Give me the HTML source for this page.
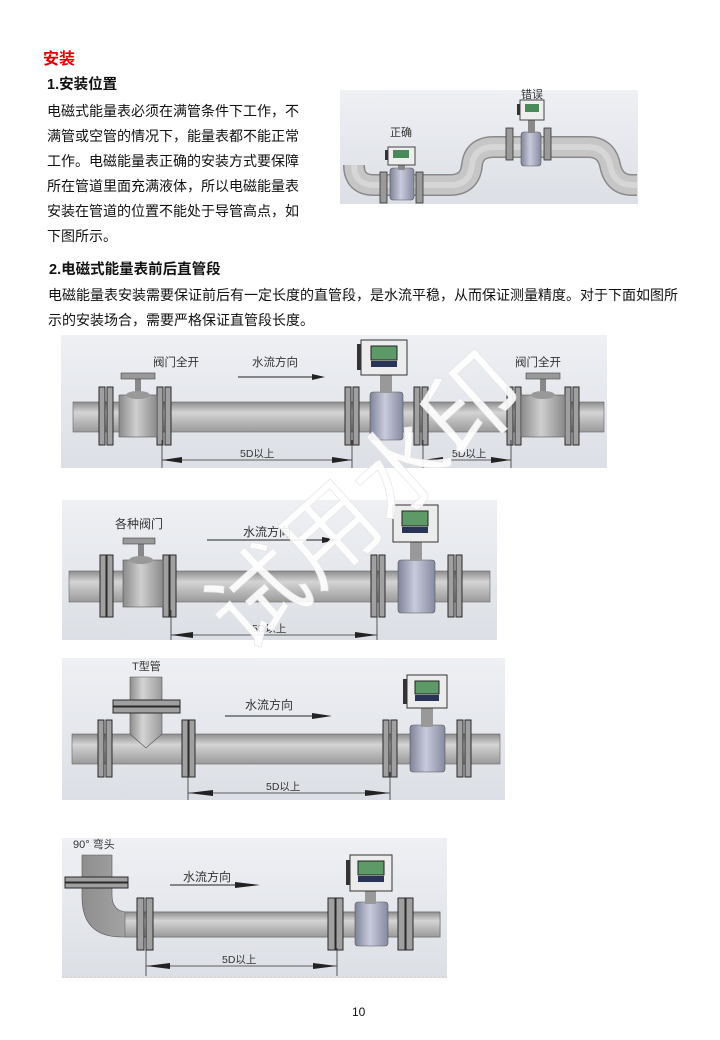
<!DOCTYPE html>
<html><head><meta charset="utf-8"><style>
html,body{margin:0;padding:0;background:#fff;}
body{width:720px;height:1040px;position:relative;overflow:hidden;font-family:"Liberation Sans","Noto Sans CJK SC",sans-serif;}
.t{position:absolute;color:#111;white-space:nowrap;}
svg{position:absolute;left:0;top:0;}
</style></head><body>
<div class="t" style="left:43px;top:45px;font-size:16px;font-weight:bold;color:#e00000;">安装</div>
<div class="t" style="left:47px;top:73px;font-size:14.5px;font-weight:bold;">1.安装位置</div>
<div class="t" style="left:47px;top:99px;font-size:14px;line-height:25px;">电磁式能量表必须在满管条件下工作，不<br>满管或空管的情况下，能量表都不能正常<br>工作。电磁能量表正确的安装方式要保障<br>所在管道里面充满液体，所以电磁能量表<br>安装在管道的位置不能处于导管高点，如<br>下图所示。</div>
<div class="t" style="left:49px;top:258px;font-size:14.5px;font-weight:bold;">2.电磁式能量表前后直管段</div>
<div class="t" style="left:48px;top:283px;font-size:14px;line-height:25px;">电磁能量表安装需要保证前后有一定长度的直管段，是水流平稳，从而保证测量精度。对于下面如图所<br>示的安装场合，需要严格保证直管段长度。</div>
<div class="t" style="left:352px;top:1005px;font-size:12px;">10</div>

<svg width="720" height="1040" viewBox="0 0 720 1040" font-family="Liberation Sans, Noto Sans CJK SC, sans-serif">
<defs>
<linearGradient id="bg" x1="0" y1="0" x2="0" y2="1"><stop offset="0" stop-color="#eef0f4"/><stop offset="1" stop-color="#dcdfe5"/></linearGradient>
<linearGradient id="pp" x1="0" y1="0" x2="0" y2="1"><stop offset="0" stop-color="#8e8e8e"/><stop offset="0.35" stop-color="#d4d4d4"/><stop offset="1" stop-color="#9a9a9a"/></linearGradient>
<linearGradient id="ph" x1="0" y1="0" x2="1" y2="0"><stop offset="0" stop-color="#8e8e8e"/><stop offset="0.4" stop-color="#d4d4d4"/><stop offset="1" stop-color="#9a9a9a"/></linearGradient>
<linearGradient id="mb" x1="0" y1="0" x2="1" y2="0"><stop offset="0" stop-color="#7f8399"/><stop offset="0.45" stop-color="#c8cbdc"/><stop offset="1" stop-color="#868aa0"/></linearGradient>
<linearGradient id="vb" x1="0" y1="0" x2="1" y2="0"><stop offset="0" stop-color="#8a8a8a"/><stop offset="0.45" stop-color="#cfcfcf"/><stop offset="1" stop-color="#8a8a8a"/></linearGradient>
</defs>

<!-- Fig 1 -->
<rect x="340" y="90" width="298" height="114" fill="url(#bg)"/>
<path d="M354 165 Q354 185 374 185 L450 185 Q470 185 472 165 Q474 147 494 147 L588 147 Q606 147 610 165 Q614 185 632 185 L637 185" fill="none" stroke="#8a8a8a" stroke-width="22"/>
<path d="M354 165 Q354 185 374 185 L450 185 Q470 185 472 165 Q474 147 494 147 L588 147 Q606 147 610 165 Q614 185 632 185 L637 185" fill="none" stroke="#c6c6c6" stroke-width="19"/>
<path d="M354 165 Q354 185 374 185 L450 185 Q470 185 472 165 Q474 147 494 147 L588 147 Q606 147 610 165 Q614 185 632 185 L637 185" fill="none" stroke="#d6d6d6" stroke-width="6"/>
<rect x="380" y="172" width="7" height="31" fill="#9a9a9a" stroke="#333" stroke-width="0.8"/>
<rect x="416" y="172" width="7" height="31" fill="#9a9a9a" stroke="#333" stroke-width="0.8"/>
<rect x="390" y="168" width="24" height="32" rx="3" fill="url(#mb)" stroke="#555" stroke-width="0.6"/>
<rect x="398" y="163" width="7" height="7" fill="#888"/>
<rect x="388" y="147" width="27" height="18" fill="#eee" stroke="#444"/>
<rect x="393" y="150" width="16" height="8" fill="#4a8a5a"/>
<rect x="385" y="150" width="3" height="10" fill="#333"/>
<rect x="506" y="128" width="7" height="32" fill="#9a9a9a" stroke="#333" stroke-width="0.8"/>
<rect x="544" y="128" width="7" height="32" fill="#9a9a9a" stroke="#333" stroke-width="0.8"/>
<rect x="521" y="132" width="20" height="34" rx="3" fill="url(#mb)" stroke="#555" stroke-width="0.6"/>
<rect x="528" y="120" width="7" height="13" fill="#888"/>
<rect x="520" y="100" width="24" height="20" fill="#eee" stroke="#444"/>
<rect x="525" y="104" width="14" height="8" fill="#4a8a5a"/>
<rect x="517" y="104" width="3" height="11" fill="#333"/>
<text x="390" y="136" font-size="11" fill="#333">正确</text>
<text x="521" y="98" font-size="11" fill="#333">错误</text>

<!-- Fig A -->
<rect x="61" y="335" width="546" height="133" fill="url(#bg)"/>
<rect x="73" y="402" width="531" height="30" fill="url(#pp)" stroke="#666" stroke-width="0.6"/>
<g fill="#a0a0a0" stroke="#2a2a2a" stroke-width="1">
<rect x="99" y="387" width="6" height="58"/><rect x="107" y="387" width="6" height="58"/>
<rect x="157" y="387" width="6" height="58"/><rect x="165" y="387" width="6" height="58"/>
<rect x="345" y="387" width="6" height="58"/><rect x="353" y="387" width="6" height="58"/>
<rect x="414" y="387" width="6" height="58"/><rect x="422" y="387" width="6" height="58"/>
<rect x="507" y="387" width="6" height="58"/><rect x="515" y="387" width="6" height="58"/>
<rect x="565" y="387" width="6" height="58"/><rect x="573" y="387" width="6" height="58"/>
</g>
<rect x="119" y="395" width="38" height="42" fill="url(#vb)" stroke="#555" stroke-width="0.6"/>
<rect x="135" y="378" width="6" height="15" fill="#888"/><rect x="121" y="373" width="34" height="6" fill="#999" stroke="#444" stroke-width="0.6"/>
<ellipse cx="138" cy="395" rx="12" ry="4" fill="#999"/>
<rect x="521" y="395" width="44" height="42" fill="url(#vb)" stroke="#555" stroke-width="0.6"/>
<rect x="540" y="378" width="6" height="15" fill="#888"/><rect x="526" y="373" width="34" height="6" fill="#999" stroke="#444" stroke-width="0.6"/>
<ellipse cx="543" cy="395" rx="12" ry="4" fill="#999"/>
<rect x="370" y="392" width="33" height="48" rx="3" fill="url(#mb)" stroke="#555" stroke-width="0.6"/>
<rect x="380" y="374" width="12" height="19" fill="#999"/>
<rect x="361" y="340" width="46" height="35" fill="#ececec" stroke="#333"/>
<rect x="371" y="346" width="26" height="14" fill="#5d9a68" stroke="#222"/>
<rect x="371" y="361" width="26" height="6" fill="#2a3456"/>
<rect x="357" y="344" width="4" height="26" fill="#333"/>
<text x="153" y="366" font-size="11.5" fill="#333">阀门全开</text>
<text x="252" y="366" font-size="11.5" fill="#333">水流方向</text>
<text x="515" y="366" font-size="11.5" fill="#333">阀门全开</text>
<line x1="238" y1="377" x2="318" y2="377" stroke="#222"/><polygon points="312,374 325,377 312,380" fill="#222"/>
<g stroke="#333" stroke-width="0.8"><line x1="162" y1="440" x2="162" y2="468"/><line x1="352" y1="440" x2="352" y2="468"/><line x1="423" y1="440" x2="423" y2="468"/><line x1="511" y1="440" x2="511" y2="468"/>
<line x1="162" y1="460" x2="352" y2="460"/><line x1="423" y1="460" x2="511" y2="460"/></g>
<g fill="#222"><polygon points="162,460 182,457 182,463"/><polygon points="352,460 332,457 332,463"/><polygon points="423,460 443,457 443,463"/><polygon points="511,460 491,457 491,463"/></g>
<text x="240" y="457" font-size="10.5" fill="#333">5D以上</text>
<text x="452" y="457" font-size="10.5" fill="#333">5D以上</text>

<!-- Fig B -->
<rect x="62" y="500" width="435" height="140" fill="url(#bg)"/>
<rect x="69" y="571" width="421" height="31" fill="url(#pp)" stroke="#666" stroke-width="0.6"/>
<g fill="#a0a0a0" stroke="#2a2a2a" stroke-width="1">
<rect x="100" y="555" width="6" height="62"/><rect x="107" y="555" width="6" height="62"/>
<rect x="163" y="555" width="6" height="62"/><rect x="170" y="555" width="6" height="62"/>
<rect x="371" y="555" width="6" height="62"/><rect x="379" y="555" width="6" height="62"/>
<rect x="448" y="555" width="6" height="62"/><rect x="456" y="555" width="6" height="62"/>
</g>
<rect x="123" y="560" width="40" height="47" fill="url(#vb)" stroke="#555" stroke-width="0.6"/>
<rect x="138" y="542" width="6" height="17" fill="#888"/><rect x="123" y="538" width="32" height="6" fill="#999" stroke="#444" stroke-width="0.6"/>
<ellipse cx="141" cy="560" rx="12" ry="4" fill="#999"/>
<rect x="398" y="560" width="37" height="53" rx="3" fill="url(#mb)" stroke="#555" stroke-width="0.6"/>
<rect x="410" y="541" width="12" height="20" fill="#999"/>
<rect x="393" y="505" width="45" height="37" fill="#ececec" stroke="#333"/>
<rect x="402" y="511" width="26" height="15" fill="#5d9a68" stroke="#222"/>
<rect x="402" y="527" width="26" height="6" fill="#2a3456"/>
<text x="115" y="528" font-size="12" fill="#333">各种阀门</text>
<text x="243" y="536" font-size="12" fill="#333">水流方向</text>
<line x1="207" y1="540" x2="330" y2="540" stroke="#222"/><polygon points="322,537 338,540 322,543" fill="#222"/>
<g stroke="#333" stroke-width="0.8"><line x1="171" y1="610" x2="171" y2="640"/><line x1="377" y1="610" x2="377" y2="640"/><line x1="171" y1="635" x2="377" y2="635"/></g>
<g fill="#222"><polygon points="171,635 193,632 193,638"/><polygon points="377,635 355,632 355,638"/></g>
<text x="252" y="632" font-size="10.5" fill="#333">5D以上</text>

<!-- Fig C -->
<rect x="62" y="658" width="443" height="142" fill="url(#bg)"/>
<rect x="72" y="734" width="428" height="30" fill="url(#pp)" stroke="#666" stroke-width="0.6"/>
<path d="M130 677 L162 677 L162 734 L146 748 L130 734 Z" fill="url(#ph)" stroke="#555" stroke-width="0.6"/>
<rect x="113" y="700" width="67" height="6" fill="#a0a0a0" stroke="#2a2a2a"/><rect x="113" y="707" width="67" height="6" fill="#a0a0a0" stroke="#2a2a2a"/>
<g fill="#a0a0a0" stroke="#2a2a2a" stroke-width="1">
<rect x="98" y="720" width="6" height="57"/><rect x="106" y="720" width="6" height="57"/>
<rect x="182" y="720" width="6" height="57"/><rect x="189" y="720" width="6" height="57"/>
<rect x="383" y="720" width="6" height="57"/><rect x="391" y="720" width="6" height="57"/>
<rect x="457" y="720" width="6" height="57"/><rect x="465" y="720" width="6" height="57"/>
</g>
<rect x="410" y="725" width="35" height="47" rx="3" fill="url(#mb)" stroke="#555" stroke-width="0.6"/>
<rect x="421" y="707" width="12" height="20" fill="#999"/>
<rect x="407" y="675" width="40" height="33" fill="#ececec" stroke="#333"/>
<rect x="415" y="681" width="24" height="13" fill="#5d9a68" stroke="#222"/>
<rect x="415" y="695" width="24" height="6" fill="#2a3456"/>
<rect x="403" y="679" width="4" height="25" fill="#333"/>
<text x="132" y="670" font-size="11" fill="#333">T型管</text>
<text x="245" y="709" font-size="12" fill="#333">水流方向</text>
<line x1="225" y1="716" x2="322" y2="716" stroke="#222"/><polygon points="312,713 332,716 312,719" fill="#222"/>
<g stroke="#333" stroke-width="0.8"><line x1="188" y1="772" x2="188" y2="800"/><line x1="390" y1="772" x2="390" y2="800"/><line x1="188" y1="793" x2="390" y2="793"/></g>
<g fill="#222"><polygon points="188,793 213,790 213,796"/><polygon points="390,793 365,790 365,796"/></g>
<text x="266" y="790" font-size="10.5" fill="#333">5D以上</text>

<!-- Fig D -->
<rect x="62" y="838" width="385" height="140" fill="url(#bg)"/>
<line x1="62" y1="977" x2="447" y2="977" stroke="#e6c8b8" stroke-dasharray="2,2"/>
<path d="M82 855 L112 855 L112 895 Q112 912 128 912 L440 912 L440 937 L122 937 Q82 937 82 897 Z" fill="url(#ph)" stroke="#555" stroke-width="0.6"/>
<rect x="125" y="912" width="315" height="25" fill="url(#pp)" stroke="#666" stroke-width="0.6"/>
<rect x="65" y="877" width="63" height="5" fill="#a0a0a0" stroke="#2a2a2a"/><rect x="65" y="883" width="63" height="5" fill="#a0a0a0" stroke="#2a2a2a"/>
<g fill="#a0a0a0" stroke="#2a2a2a" stroke-width="1">
<rect x="137" y="898" width="7" height="52"/><rect x="146" y="898" width="7" height="52"/>
<rect x="328" y="898" width="7" height="52"/><rect x="336" y="898" width="7" height="52"/>
<rect x="398" y="898" width="7" height="52"/><rect x="406" y="898" width="7" height="52"/>
</g>
<rect x="355" y="902" width="33" height="44" rx="3" fill="url(#mb)" stroke="#555" stroke-width="0.6"/>
<rect x="365" y="890" width="11" height="14" fill="#999"/>
<rect x="350" y="855" width="42" height="36" fill="#ececec" stroke="#333"/>
<rect x="358" y="861" width="26" height="14" fill="#5d9a68" stroke="#222"/>
<rect x="358" y="876" width="26" height="6" fill="#2a3456"/>
<rect x="346" y="860" width="4" height="25" fill="#333"/>
<text x="73" y="848" font-size="11" fill="#333">90° 弯头</text>
<text x="183" y="881" font-size="12" fill="#333">水流方向</text>
<line x1="170" y1="885" x2="250" y2="885" stroke="#222"/><polygon points="235,882 260,885 235,888" fill="#222"/>
<g stroke="#333" stroke-width="0.8"><line x1="146" y1="948" x2="146" y2="976"/><line x1="337" y1="948" x2="337" y2="976"/><line x1="146" y1="966" x2="337" y2="966"/></g>
<g fill="#222"><polygon points="146,966 170,963 170,969"/><polygon points="337,966 313,963 313,969"/></g>
<text x="222" y="963" font-size="10.5" fill="#333">5D以上</text>

<!-- watermark -->
<text x="0" y="0" transform="translate(245,655) rotate(-42)" font-size="96" font-family="Noto Sans CJK SC, sans-serif" fill="#ffffff" fill-opacity="0.9" stroke="#e2e2e2" stroke-width="0.6">试用水印</text>
</svg>
</body></html>
